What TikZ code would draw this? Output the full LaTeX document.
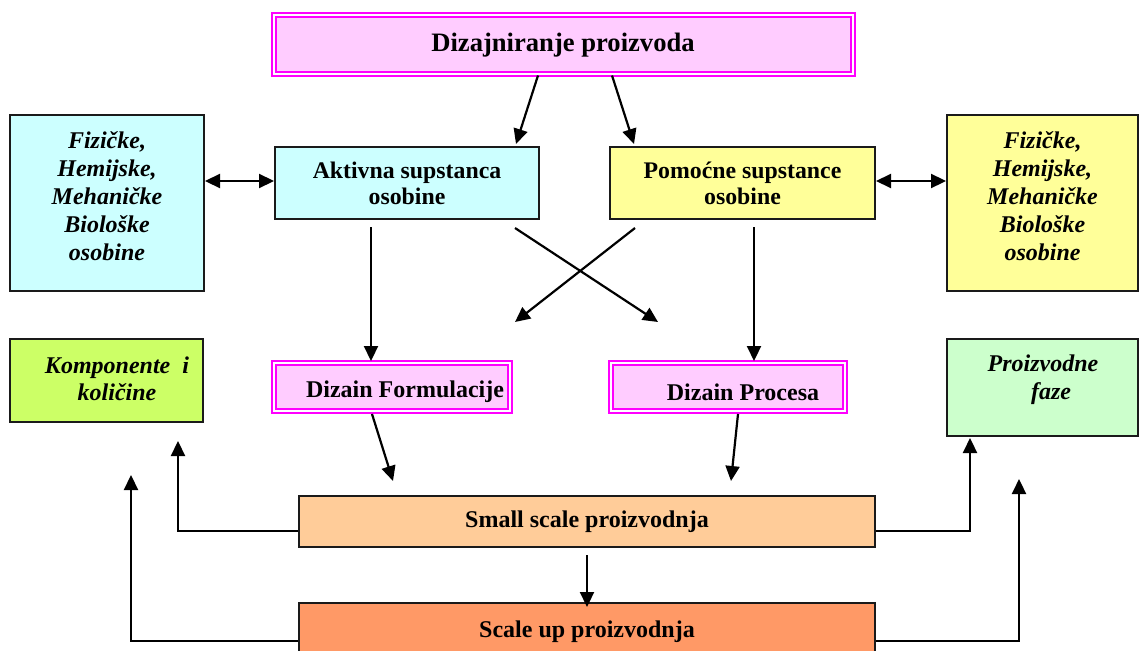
\documentclass[tikz,border=0pt]{standalone}
\usepackage{fontspec}
\setmainfont{Liberation Serif}
\usetikzlibrary{arrows.meta,calc}

\definecolor{pinkfill}{HTML}{FFCCFF}
\definecolor{frame}{HTML}{FF00FF}
\definecolor{cyanfill}{HTML}{CCFFFF}
\definecolor{yellowfill}{HTML}{FFFF99}
\definecolor{limefill}{HTML}{CCFF66}
\definecolor{mintfill}{HTML}{CCFFCC}
\definecolor{peachfill}{HTML}{FFCC99}
\definecolor{orangefill}{HTML}{FF9966}
\definecolor{edge}{HTML}{1A1A1A}

\begin{document}
\begin{tikzpicture}[x=1pt,y=-1pt,
  box/.style={draw=edge, line width=2pt, inner sep=0pt, align=center,
    font=\fontsize{23.8}{26}\selectfont\bfseries},
  plainbox/.style={draw=edge, line width=2pt, inner sep=0pt},
  itext/.style={inner sep=0pt, align=center,
    font=\fontsize{24}{28}\selectfont\bfseries\itshape},
  dblbox/.style={draw=frame, double=white, double distance=2pt, line width=2pt,
    fill=pinkfill, inner sep=0pt, align=center},
  dbltext/.style={inner sep=0pt, font=\fontsize{24}{28}\selectfont\bfseries},
  arr/.style={line width=2.2pt, -{Triangle[length=15pt,width=14pt]}},
  darr/.style={line width=2.2pt,
    {Triangle[length=15pt,width=14pt]}-{Triangle[length=15pt,width=14pt]}}
]
\useasboundingbox (0,0) rectangle (1139,650);
\clip (0,0) rectangle (1139,650);
\fill[white] (0,0) rectangle (1139,650);

% top level
\node[dblbox, minimum width=579pt, minimum height=59pt,
  font=\fontsize{26.6}{30}\selectfont\bfseries] (title) at (563,45) {Dizajniranje proizvoda};

% substance properties
\node[box, fill=cyanfill, minimum width=264pt, minimum height=72pt] (akt) at (407,183)
  {Aktivna supstanca\\osobine};
\node[box, fill=yellowfill, minimum width=265pt, minimum height=72pt] (pom) at (742.5,183)
  {Pomoćne supstance\\osobine};

\node[plainbox, fill=cyanfill, minimum width=194pt, minimum height=176pt] (lb) at (107,203) {};
\node[itext] (lbt) at (107,196) {Fizičke,\\Hemijske,\\Mehaničke\\Biološke\\osobine};
\node[plainbox, fill=yellowfill, minimum width=191pt, minimum height=176pt] (rb) at (1042.5,203) {};
\node[itext] (rbt) at (1042.5,196) {Fizičke,\\Hemijske,\\Mehaničke\\Biološke\\osobine};

% design stages
\node[dblbox, minimum width=236pt, minimum height=48pt] (formul) at (392,387) {};
\node[dbltext] (formult) at (405,392) {Dizain Formulacije};
\node[dblbox, minimum width=234pt, minimum height=48pt] (procesa) at (728,387) {};
\node[dbltext] (procesat) at (743,392) {Dizain Procesa};

% outcomes
\node[plainbox, fill=limefill, minimum width=193pt, minimum height=83pt] (komp) at (106.5,380.5) {};
\node[itext, font=\fontsize{24}{27}\selectfont\bfseries\itshape] (kompt) at (117,379)
  {Komponente\ \ i\\količine};
\node[plainbox, fill=mintfill, minimum width=191pt, minimum height=97pt] (prf) at (1042.5,387.5) {};
\node[itext, font=\fontsize{24}{28}\selectfont\bfseries\itshape] (prft) at (1043,380)
  {Proizvodne\\\hspace*{16pt}faze};

% production
\node[box, fill=peachfill, minimum width=576pt, minimum height=51pt,
  font=\fontsize{24}{26}\selectfont\bfseries] (small) at (587,521.5) {Small scale proizvodnja};
\node[box, fill=orangefill, minimum width=576pt, minimum height=57pt,
  font=\fontsize{24}{26}\selectfont\bfseries] (scaleup) at (587,631.5) {Scale up proizvodnja};

% connectors
\draw[arr] ($(title.south)+(-25,0)$) -- ($(akt.north)+(109,-2)$);
\draw[arr] ($(title.south)+(49,0)$) -- ($(pom.north)+(-108.5,-2)$);

\draw[darr] ($(lb.east)+(0,-22)$) -- ($(akt.west)+(0,-2)$);
\draw[darr] ($(pom.east)+(0,-2)$) -- ($(rb.west)+(0,-22)$);

\draw[arr] ($(akt.south)+(-36,7)$) -- ($(formul.north)+(-21,-1)$);
\draw[arr] ($(pom.south)+(11.5,7)$) -- ($(procesa.north)+(26,-1)$);

\coordinate (xa) at (658,322);
\coordinate (xp) at (515,322);
\draw[arr] ($(akt.south)+(108,8)$) -- (xa);
\draw[arr] ($(pom.south)+(-107.5,8)$) -- (xp);

\draw[arr] ($(formul.south)+(-20,2)$) -- ($(small.north)+(-194,-14)$);
\draw[arr] ($(procesa.south)+(10,2)$) -- ($(small.north)+(144,-14)$);

\draw[arr] ($(small.south)+(0,7)$) -- ($(scaleup.north)+(0,5)$);

\draw[arr] ($(small.west)+(0,9.5)$) -| ($(komp.south)+(71.5,18)$);
\draw[arr] ($(small.east)+(0,9.5)$) -| ($(prf.south)+(-72.5,1)$);
\draw[arr] ($(scaleup.west)+(0,9.5)$) -| ($(komp.south)+(24.5,52)$);
\draw[arr] ($(scaleup.east)+(0,9.5)$) -| ($(prf.south)+(-23.5,42)$);
\end{tikzpicture}
\end{document}
